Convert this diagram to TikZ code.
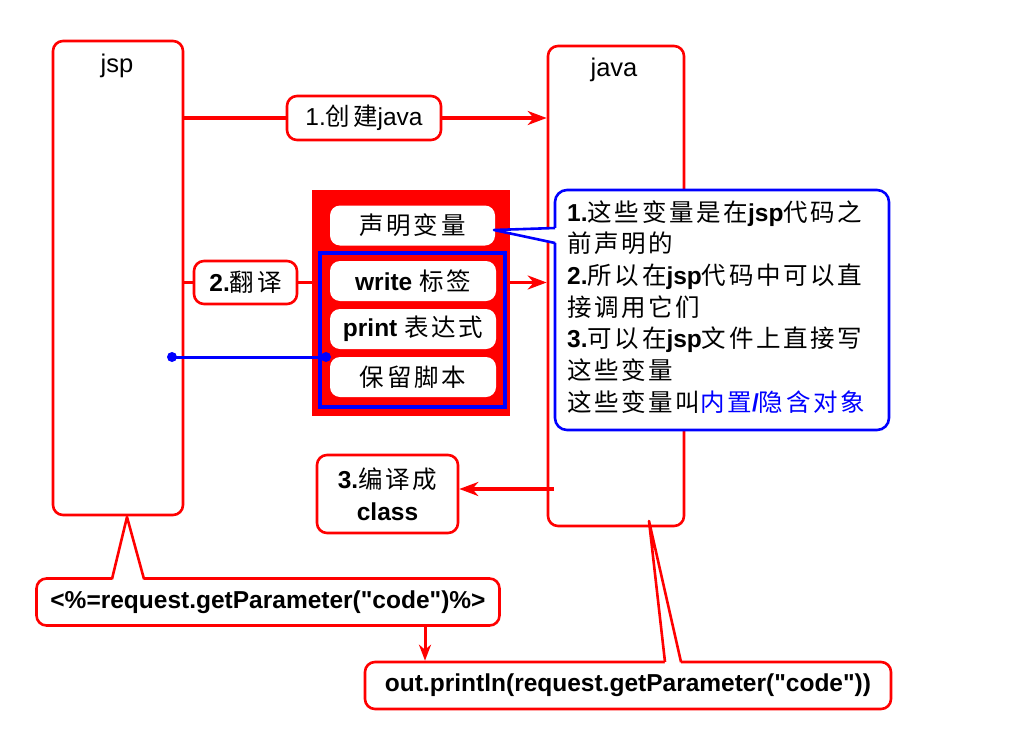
\documentclass[tikz,border=0pt]{standalone}
\usepackage{fontspec}
\setmainfont{Liberation Sans}[Ligatures=TeXOff]
\newfontfamily\cjkfont{Noto Sans CJK SC}[LetterSpace=11]
\newcommand\zhs[1]{{\cjkfont\mdseries #1}}
\newcommand\qq{\symbol{34}}
\usetikzlibrary{arrows.meta,calc}
\tikzset{
  txt/.style={font=\fontsize{24.5}{31.7}\selectfont, text=black},
  rbox/.style={draw=red, line width=2.6pt, rounded corners=10pt, fill=white, inner sep=0pt, txt},
  wbox/.style={fill=white, rounded corners=10pt, inner sep=0pt, minimum width=166pt, minimum height=40pt, txt},
  arr/.style={red, line width=3.2pt, -{Stealth[length=19pt,width=14pt,inset=6pt]}},
  rline/.style={red, line width=3.2pt},
  tline/.style={red, line width=2.6pt, line join=round},
}
\begin{document}
\begin{tikzpicture}[x=1pt,y=-1pt]
\useasboundingbox (0,0) rectangle (1024,752);
% main boxes
\node[rbox, minimum width=130pt, minimum height=474pt] (jsp) at (118,278) {};
\node[txt, font=\fontsize{25.5}{30}\selectfont] (jsplbl) at (117,66) {jsp};
\node[rbox, minimum width=136pt, minimum height=480pt] (java) at (616,286) {};
\node[txt, font=\fontsize{25.5}{30}\selectfont] (javalbl) at (614,70) {java};
% step 1
\node[rbox, minimum width=154pt, minimum height=44pt] (l1) at (364,118) {1.\zhs{创建}java};
\draw[rline] (jsp.east |- l1) -- (l1.west);
\draw[arr] (l1.east) -- (java.west |- l1);
% red block
\node[fill=red, minimum width=198pt, minimum height=226pt, inner sep=0pt] (redbox) at (411,303) {};
\node[wbox, minimum width=165pt] (decl) at (412.5,225.5) {\zhs{声明变量}};
\node[draw=blue, line width=3.5pt, minimum width=185pt, minimum height=154pt, inner sep=0pt] (bluebox) at (412.5,330) {};
\node[wbox] (wr) at (413,281) {{\bfseries write} \zhs{标签}};
\node[wbox] (pr) at (413,329) {{\bfseries print} \zhs{表达式}};
\node[wbox] (kp) at (413,377) {\zhs{保留脚本}};
% step 2
\node[rbox, minimum width=103pt, minimum height=43pt] (l2) at (245.5,282.5) {{\bfseries 2.}\zhs{翻译}};
\draw[rline] (jsp.east |- l2) -- (l2.west);
\draw[rline] (l2.east) -- (redbox.west |- l2);
\draw[arr] (redbox.east |- l2) -- (java.west |- l2);
% blue link
\coordinate (bl1) at (172,357);
\coordinate (bl2) at (326,357);
\draw[blue, line width=3pt] (bl1) -- (bl2);
\fill[blue] (bl1) circle (5pt) (bl2) circle (5pt);
% callout
\node[draw=blue, line width=2.6pt, rounded corners=12pt, fill=white, minimum width=334pt, minimum height=240pt, inner sep=0pt] (call) at (722,310) {};
\coordinate (ptip) at (494,230);
\coordinate (pa) at (555,228);
\coordinate (pb) at (555,243);
\fill[white] ($(pa)+(2.5,0)$) -- (ptip) -- ($(pb)+(2.5,0)$) -- cycle;
\draw[blue, line width=2.6pt, line join=round] (pa) -- (ptip) -- (pb);
\node[txt, anchor=north west, align=left, inner sep=0pt] (calltxt) at (567,200) {%
{\bfseries 1.}\zhs{这些变量是在}{\bfseries jsp}\zhs{代码之}\\
\zhs{前声明的}\\
{\bfseries 2.}\zhs{所以在}{\bfseries jsp}\zhs{代码中可以直}\\
\zhs{接调用它们}\\
{\bfseries 3.}\zhs{可以在}{\bfseries jsp}\zhs{文件上直接写}\\
\zhs{这些变量}\\
\zhs{这些变量叫}\textcolor{blue}{\zhs{内置}{\bfseries /}\zhs{隐含对象}}};
% step 3
\node[rbox, minimum width=141pt, minimum height=78pt, align=center] (cls) at (387.5,494) {{\bfseries 3.}\zhs{编译成}\\[0.5pt]{\bfseries class}};
\coordinate (c3s) at (554,489);
\draw[arr] (c3s) -- (cls.east |- c3s);
% bottom expressions
\node[rbox, minimum width=463pt, minimum height=47pt] (expr) at (268,602) {\bfseries <\%=request.getParameter(\qq code\qq)\%>\hspace{6pt}};
\coordinate (pjl) at (112,579);
\coordinate (pjt) at (127,517);
\coordinate (pjr) at (144,579);
\fill[white] ($(pjl)+(0,2.5)$) -- (pjt) -- ($(pjr)+(0,2.5)$) -- cycle;
\draw[tline] (pjl) -- (pjt) -- (pjr);
\node[rbox, minimum width=526pt, minimum height=47pt] (out) at (628,685.5) {\bfseries out.println(request.getParameter(\qq code\qq))\hspace{12pt}};
\coordinate (pol) at (665,662);
\coordinate (pot) at (649,521);
\coordinate (por) at (681,662);
\fill[white] ($(pol)+(0,2.5)$) -- (pot) -- ($(por)+(0,2.5)$) -- cycle;
\draw[tline] (pol) -- (pot) -- (por);
\coordinate (e1) at (425,625);
\draw[red, line width=3pt, -{Stealth[length=16pt,width=12pt,inset=5pt]}] (e1) -- (e1 |- out.north);
\end{tikzpicture}
\end{document}
